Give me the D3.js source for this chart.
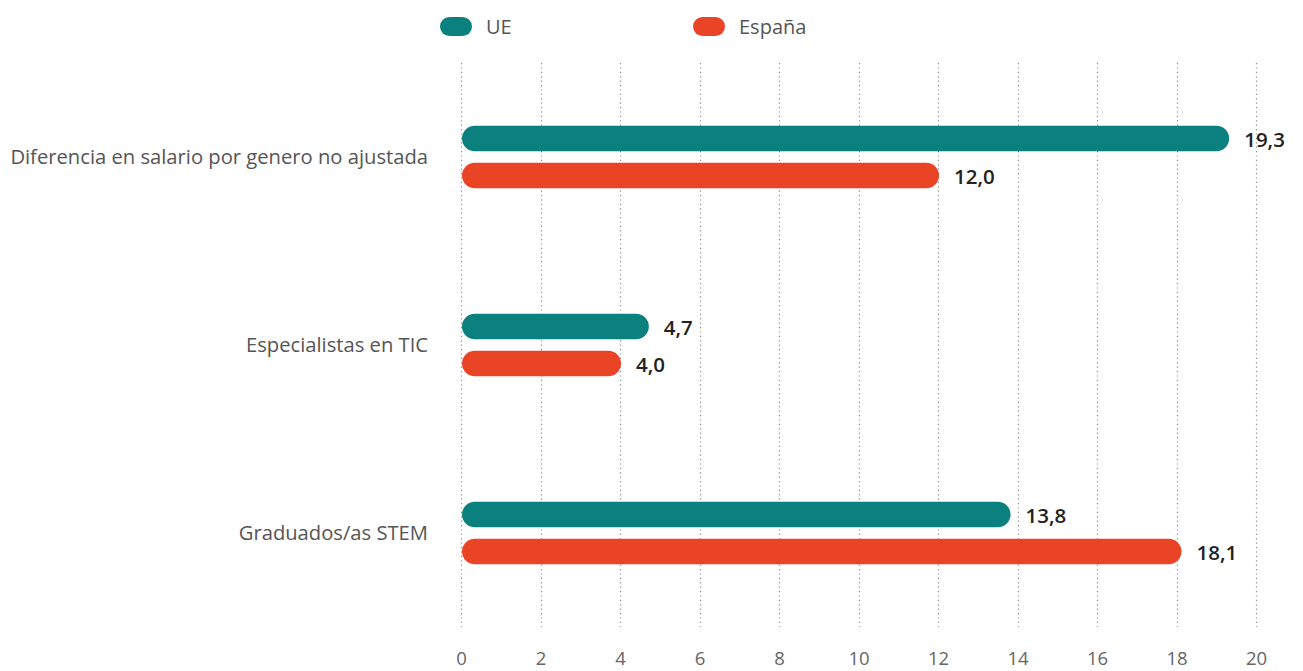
<!DOCTYPE html>
<html>
<head>
<meta charset="utf-8">
<script src="https://cdn.jsdelivr.net/npm/d3@7"></script>
<style>
    body { margin: 0; background: #fff; }
    svg text { font-family: "Open Sans", "Lato", sans-serif; }
    .grid-line { stroke: #8a8a8a; stroke-width: 1.2; stroke-dasharray: 1.2 3.2; }
</style>
</head>
<body>
<svg></svg>
<script>
// данные диаграммы
const categories = ['Diferencia en salario por genero no ajustada', 'Especialistas en TIC', 'Graduados/as STEM'];
const seriesNames = ['UE', 'España'];
const valuesUE = [19.3, 4.7, 13.8];
const valuesES = [12.0, 4.0, 18.1];
const tickValues = [0, 2, 4, 6, 8, 10, 12, 14, 16, 18, 20];

const colors = ['#0a817f', '#ea4427'];

const width = 1303;
const height = 671;
const marginLeft = 461;
const marginRight = 47;
const marginTop = 63;
const plotBottom = 627;

const svg = d3.select('svg')
    .attr('width', width)
    .attr('height', height);

const scaleX = d3.scaleLinear().domain([0, 20]).range([marginLeft, width - marginRight]);
const scaleY = d3.scaleBand().domain(categories).range([marginTop, plotBottom]);

// строим массив для столбцов
const arrGraph = [];
categories.forEach((c, i) => {
    arrGraph.push({ cat: c, series: 0, value: valuesUE[i] });
    arrGraph.push({ cat: c, series: 1, value: valuesES[i] });
});

const barHeight = 25.5;
const barOffset = 18.5;

// вертикальная сетка
svg.append('g')
    .selectAll('line')
    .data(tickValues)
    .enter()
    .append('line')
    .classed('grid-line', true)
    .attr('x1', d => Math.round(scaleX(d)) + 0.5)
    .attr('x2', d => Math.round(scaleX(d)) + 0.5)
    .attr('y1', marginTop)
    .attr('y2', plotBottom);

// ось OX
const axisX = d3.axisBottom(scaleX).tickValues(tickValues).tickSize(0).tickPadding(0);
const gx = svg.append('g')
    .attr('transform', `translate(0, ${plotBottom + 32})`)
    .call(axisX);
gx.select('.domain').remove();
gx.selectAll('text')
    .style('font-size', '18.5px')
    .style('fill', '#666')
    .attr('y', 0)
    .attr('dy', '0.35em');

// ось OY - подписи категорий
const axisY = d3.axisLeft(scaleY).tickSize(0).tickPadding(0);
const gy = svg.append('g')
    .attr('transform', `translate(${marginLeft - 33}, 1)`)
    .call(axisY);
gy.select('.domain').remove();
gy.selectAll('text')
    .style('font-size', '20.2px')
    .style('fill', '#555');

const yCenter = d => scaleY(d.cat) + scaleY.bandwidth() / 2 + (d.series === 0 ? -barOffset : barOffset);

// столбцы
svg.append('g')
    .selectAll('rect')
    .data(arrGraph)
    .enter()
    .append('rect')
    .attr('x', scaleX(0) + 1)
    .attr('y', d => yCenter(d) - barHeight / 2)
    .attr('width', d => scaleX(d.value) - scaleX(0))
    .attr('height', barHeight)
    .attr('rx', barHeight / 2)
    .style('fill', d => colors[d.series]);

// подписи значений
svg.append('g')
    .selectAll('text')
    .data(arrGraph)
    .enter()
    .append('text')
    .attr('x', d => scaleX(d.value) + 16)
    .attr('y', d => yCenter(d) + 1)
    .attr('dy', '0.35em')
    .style('font-size', '20.5px')
    .style('font-weight', '600')
    .style('fill', '#222')
    .text(d => d3.format('.1f')(d.value).replace('.', ','));

// легенда
const legendX = [440, 693];
const legend = svg.append('g')
    .selectAll('g')
    .data(seriesNames)
    .enter()
    .append('g')
    .attr('transform', (d, i) => `translate(${legendX[i]}, 17)`);

legend.append('rect')
    .attr('width', 32)
    .attr('height', 19)
    .attr('rx', 9.5)
    .style('fill', (d, i) => colors[i]);

legend.append('text')
    .attr('x', 46)
    .attr('y', 10)
    .attr('dy', '0.35em')
    .style('font-size', '20px')
    .style('fill', '#555')
    .text(d => d);
</script>
</body>
</html>
